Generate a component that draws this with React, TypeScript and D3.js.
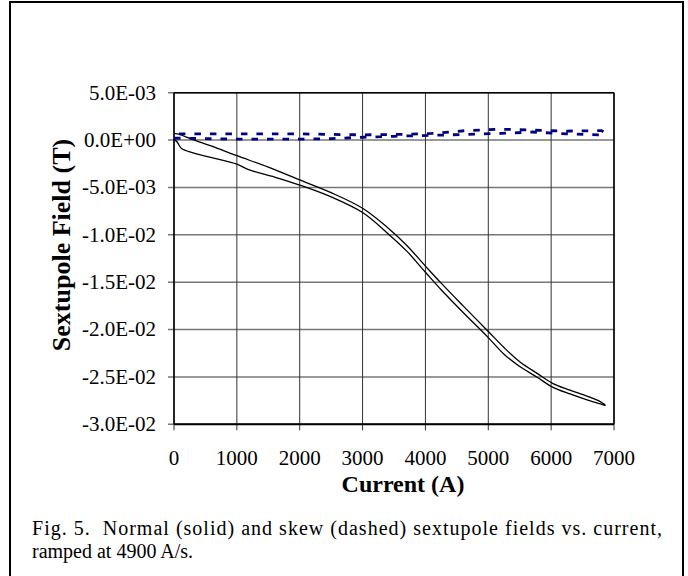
import * as d3 from "d3";

const width = 688;
const height = 576;

// normal sextupole, ramp up (A, T)
const normalUpCurrent = [0, 50, 120, 300, 600, 1000, 1200, 1600, 2000, 2500, 3000, 3400, 3700, 4000, 4250, 4600, 5000, 5250, 5500, 5770, 6030, 6300, 6560, 6780, 6860];
const normalUp = [1e-4, -2e-4, -9e-4, -1.35e-3, -1.85e-3, -2.55e-3, -3.15e-3, -3.9e-3, -4.75e-3, -6.0e-3, -7.65e-3, -9.85e-3, -1.17e-2, -1.395e-2, -1.58e-2, -1.82e-2, -2.085e-2, -2.26e-2, -2.39e-2, -2.5e-2, -2.61e-2, -2.68e-2, -2.74e-2, -2.785e-2, -2.8e-2];

// normal sextupole, ramp down
const normalDownCurrent = [6860, 6780, 6560, 6300, 6030, 5770, 5500, 5250, 5000, 4600, 4250, 4000, 3700, 3400, 3000, 2500, 2000, 1500, 1000, 600, 400, 200, 90, 0];
const normalDown = [-2.8e-2, -2.76e-2, -2.7e-2, -2.64e-2, -2.57e-2, -2.46e-2, -2.34e-2, -2.19e-2, -2.02e-2, -1.75e-2, -1.51e-2, -1.33e-2, -1.11e-2, -9.25e-3, -7.2e-3, -5.55e-3, -4.2e-3, -2.85e-3, -1.65e-3, -6.5e-4, -2e-4, 3e-4, 6e-4, 7e-4];

// skew sextupole
const skewUpCurrent = [0, 500, 1000, 1500, 2000, 2500, 3000, 3500, 4100, 4650, 5200, 5700, 6250, 6800, 6860];
const skewUp = [2e-4, 1.5e-4, 1e-4, 1e-4, 1e-4, 1.5e-4, 3e-4, 4e-4, 5e-4, 6e-4, 7e-4, 8.5e-4, 6.5e-4, 5.5e-4, 8e-4];
const skewDownCurrent = [6860, 6800, 6250, 5700, 5200, 4650, 4100, 3600, 3000, 2000, 1000, 500, 0];
const skewDown = [8e-4, 1.0e-3, 9.5e-4, 1.05e-3, 1.15e-3, 1.0e-3, 7e-4, 6e-4, 5.5e-4, 6.5e-4, 6.5e-4, 6.5e-4, 6.5e-4];

const xTicks = [0, 1000, 2000, 3000, 4000, 5000, 6000, 7000];
const yTicks = [0.005, 0, -0.005, -0.01, -0.015, -0.02, -0.025, -0.03];
const yTickLabels = ["5.0E-03", "0.0E+00", "-5.0E-03", "-1.0E-02", "-1.5E-02", "-2.0E-02", "-2.5E-02", "-3.0E-02"];

const serif = "'Liberation Serif', 'Times New Roman', serif";

const App = () => {
  const x = d3.scaleLinear().domain([0, 7000]).range([174, 614]);
  const y = d3.scaleLinear().domain([-0.03, 0.005]).range([424.3, 92.7]);

  const smooth = d3.line<[number, number]>()
    .x(d => x(d[0]))
    .y(d => y(d[1]))
    .curve(d3.curveCatmullRom.alpha(0.5));
  const straight = d3.line<[number, number]>()
    .x(d => x(d[0]))
    .y(d => y(d[1]));

  const normalPts: [number, number][] = [
    ...normalUpCurrent.map((c, i) => [c, normalUp[i]] as [number, number]),
    ...normalDownCurrent.map((c, i) => [c, normalDown[i]] as [number, number]).slice(1),
  ];
  const skewPts: [number, number][] = [
    ...skewUpCurrent.map((c, i) => [c, skewUp[i]] as [number, number]),
    ...skewDownCurrent.map((c, i) => [c, skewDown[i]] as [number, number]),
  ];

  const [x0, x1] = x.range();
  const [yb, yt] = y.range();

  return (
    <div style={{ position: "absolute", left: 0, top: 0 }}>
      <svg width={width} height={height} style={{ display: "block", background: "#fff" }}>
        {/* outer frame */}
        <path d={`M10,${height + 4}V2H683V${height + 4}`} fill="none" stroke="#000" strokeWidth={2} />

        {/* horizontal grid */}
        {yTicks.map(t => (
          <line key={"gy" + t} x1={x0 - 6} x2={x1} y1={y(t)} y2={y(t)} stroke="#777" strokeWidth={1.5} />
        ))}
        {/* vertical grid */}
        {xTicks.map(t => (
          <line key={"gx" + t} x1={x(t)} x2={x(t)} y1={yt} y2={yb + 6} stroke="#333" strokeWidth={1} />
        ))}
        {/* plot border */}
        <line x1={x0} x2={x1} y1={yt} y2={yt} stroke="#000" strokeWidth={1.5} />
        <line x1={x1} x2={x1} y1={yt} y2={yb} stroke="#000" strokeWidth={1.5} />
        <line x1={x0} x2={x0} y1={yt} y2={yb} stroke="#000" strokeWidth={1.5} />
        <line x1={x0} x2={x1} y1={yb} y2={yb} stroke="#000" strokeWidth={2} />

        {/* series */}
        <path d={smooth(normalPts) ?? ""} fill="none" stroke="#000" strokeWidth={1.3} />
        <path d={straight(skewPts) ?? ""} fill="none" stroke="#000080" strokeWidth={2.8} strokeDasharray="6.5,9" />

        {/* y tick labels */}
        {yTicks.map((t, i) => (
          <text key={"ly" + t} x={156} y={y(t)} dy="0.33em" textAnchor="end" fontFamily={serif} fontSize={21} fill="#000">
            {yTickLabels[i]}
          </text>
        ))}
        {/* x tick labels */}
        {xTicks.map(t => (
          <text key={"lx" + t} x={x(t)} y={465} textAnchor="middle" fontFamily={serif} fontSize={21} fill="#000">
            {t}
          </text>
        ))}

        {/* axis titles */}
        <text x={403} y={492} textAnchor="middle" fontFamily={serif} fontSize={24} fontWeight="bold" fill="#000">
          Current (A)
        </text>
        <text transform="translate(70,245) rotate(-90)" textAnchor="middle" fontFamily={serif} fontSize={26} fontWeight="bold" fill="#000">
          Sextupole Field (T)
        </text>

        {/* caption */}
        <text x={32} y={535} fontFamily={serif} fontSize={20} fill="#000" textLength={630} lengthAdjust="spacing" style={{ whiteSpace: "pre" }}>
          {"Fig. 5.  Normal (solid) and skew (dashed) sextupole fields vs. current,"}
        </text>
        <text x={32} y={558} fontFamily={serif} fontSize={20} fill="#000">
          ramped at 4900 A/s.
        </text>
      </svg>
    </div>
  );
};

export default App;
